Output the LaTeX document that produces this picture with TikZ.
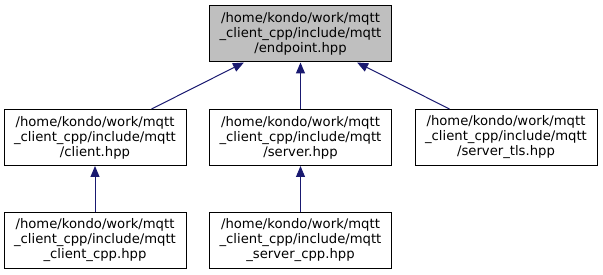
\documentclass[tikz,border=0pt]{standalone}
\usepackage{fontspec}
\setmainfont{DejaVu Sans}
\usetikzlibrary{arrows.meta}
\definecolor{edgeblue}{HTML}{191970}
\definecolor{focusgray}{HTML}{BFBFBF}
\tikzset{
  file/.style={draw=black, line width=1pt, fill=white, align=center,
    minimum width=182pt, minimum height=56pt, inner sep=0pt,
    font=\fontsize{13.2pt}{15pt}\selectfont},
  focus/.style={file, fill=focusgray},
  dep/.style={draw=edgeblue, line width=1pt, -{Triangle[length=11pt,width=9pt]}}
}
\begin{document}
\begin{tikzpicture}[x=1pt, y=-1pt]
  \useasboundingbox (0,0) rectangle (603,275);
  \node[focus] (endpoint) at (300.5,34) {/home/kondo/work/mqtt\\\_client\_cpp/include/mqtt\\/endpoint.hpp};
  \node[file] (client) at (95,137.5) {/home/kondo/work/mqtt\\\_client\_cpp/include/mqtt\\/client.hpp};
  \node[file] (server) at (300.5,137.5) {/home/kondo/work/mqtt\\\_client\_cpp/include/mqtt\\/server.hpp};
  \node[file] (servertls) at (506,137.5) {/home/kondo/work/mqtt\\\_client\_cpp/include/mqtt\\/server\_tls.hpp};
  \node[file] (clientcpp) at (95,240.5) {/home/kondo/work/mqtt\\\_client\_cpp/include/mqtt\\\_client\_cpp.hpp};
  \node[file] (servercpp) at (300.5,240.5) {/home/kondo/work/mqtt\\\_client\_cpp/include/mqtt\\\_server\_cpp.hpp};
  \draw[dep] (client) -- (endpoint);
  \draw[dep] (server) -- (endpoint);
  \draw[dep] (servertls) -- (endpoint);
  \draw[dep] (clientcpp) -- (client);
  \draw[dep] (servercpp) -- (server);
\end{tikzpicture}
\end{document}
